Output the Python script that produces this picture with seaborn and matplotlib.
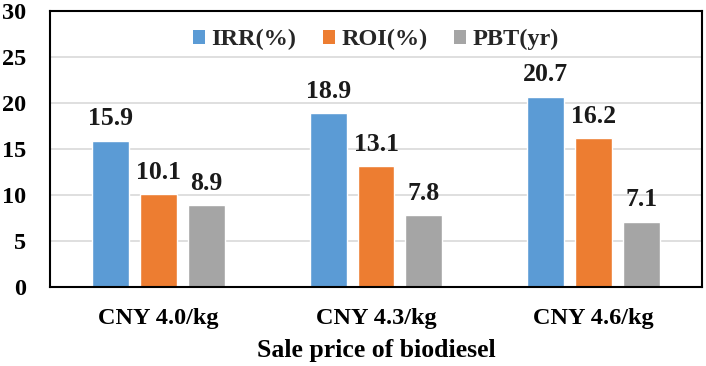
import matplotlib
matplotlib.use("Agg")
import matplotlib.pyplot as plt
import seaborn as sns
import pandas as pd
from matplotlib.patches import Patch

categories = ["CNY 4.0/kg", "CNY 4.3/kg", "CNY 4.6/kg"]
series_names = ["IRR(%)", "ROI(%)", "PBT(yr)"]
irr = [15.9, 18.9, 20.7]
roi = [10.1, 13.1, 16.2]
pbt = [8.9, 7.8, 7.1]
colors = ["#5B9BD5", "#ED7D31", "#A5A5A5"]

rows = []
for name, vals in zip(series_names, [irr, roi, pbt]):
    for c, v in zip(categories, vals):
        rows.append({"cat": c, "series": name, "value": v})
df = pd.DataFrame(rows)

sns.set_theme(style="white")
plt.rcParams["font.family"] = ["Liberation Serif", "DejaVu Serif"]
plt.rcParams["font.weight"] = "bold"

fig = plt.figure(figsize=(7.06, 3.66), dpi=100)
ax = fig.add_axes([50 / 706, 79 / 366, 652 / 706, 276 / 366])

sns.barplot(data=df, x="cat", y="value", hue="series", order=categories,
            hue_order=series_names, palette=colors, width=0.66, gap=0.23,
            saturation=1, ax=ax, legend=False, errorbar=None)

for cont in ax.containers:
    for b in cont:
        ax.annotate(f"{b.get_height():.1f}", (b.get_x() + b.get_width() / 2, b.get_height()),
                    xytext=(0, 11), textcoords="offset points", ha="center",
                    va="baseline", fontsize=18.5, fontweight="bold", color="#1a1a1a")

ax.set_ylim(0, 30)
ax.set_xlim(-0.5, 2.5)
ax.set_yticks([0, 5, 10, 15, 20, 25, 30])
ax.yaxis.grid(True, color="#D9D9D9", linewidth=1.2)
ax.set_axisbelow(True)
for s in ax.spines.values():
    s.set_visible(True)
    s.set_color("black")
    s.set_linewidth(1.5)
ax.tick_params(axis="both", length=0, labelsize=17.5)
ax.tick_params(axis="y", pad=17)
ax.tick_params(axis="x", pad=15)
for t in ax.get_xticklabels() + ax.get_yticklabels():
    t.set_fontweight("bold")
    t.set_color("black")
ax.set_xlabel("Sale price of biodiesel", fontsize=18.5, fontweight="bold", labelpad=7, color="black")
ax.set_ylabel("")

handles = [Patch(facecolor=c, edgecolor="none") for c in colors]
leg = ax.legend(handles, series_names, loc="upper center", ncol=3, frameon=False,
                bbox_to_anchor=(0.5, 1.0), fontsize=17.5, handlelength=0.5,
                handleheight=0.5, handletextpad=0.25, columnspacing=1.1,
                borderaxespad=0.35)
for t in leg.get_texts():
    t.set_fontweight("bold")

fig.savefig("out.png", dpi=100)
